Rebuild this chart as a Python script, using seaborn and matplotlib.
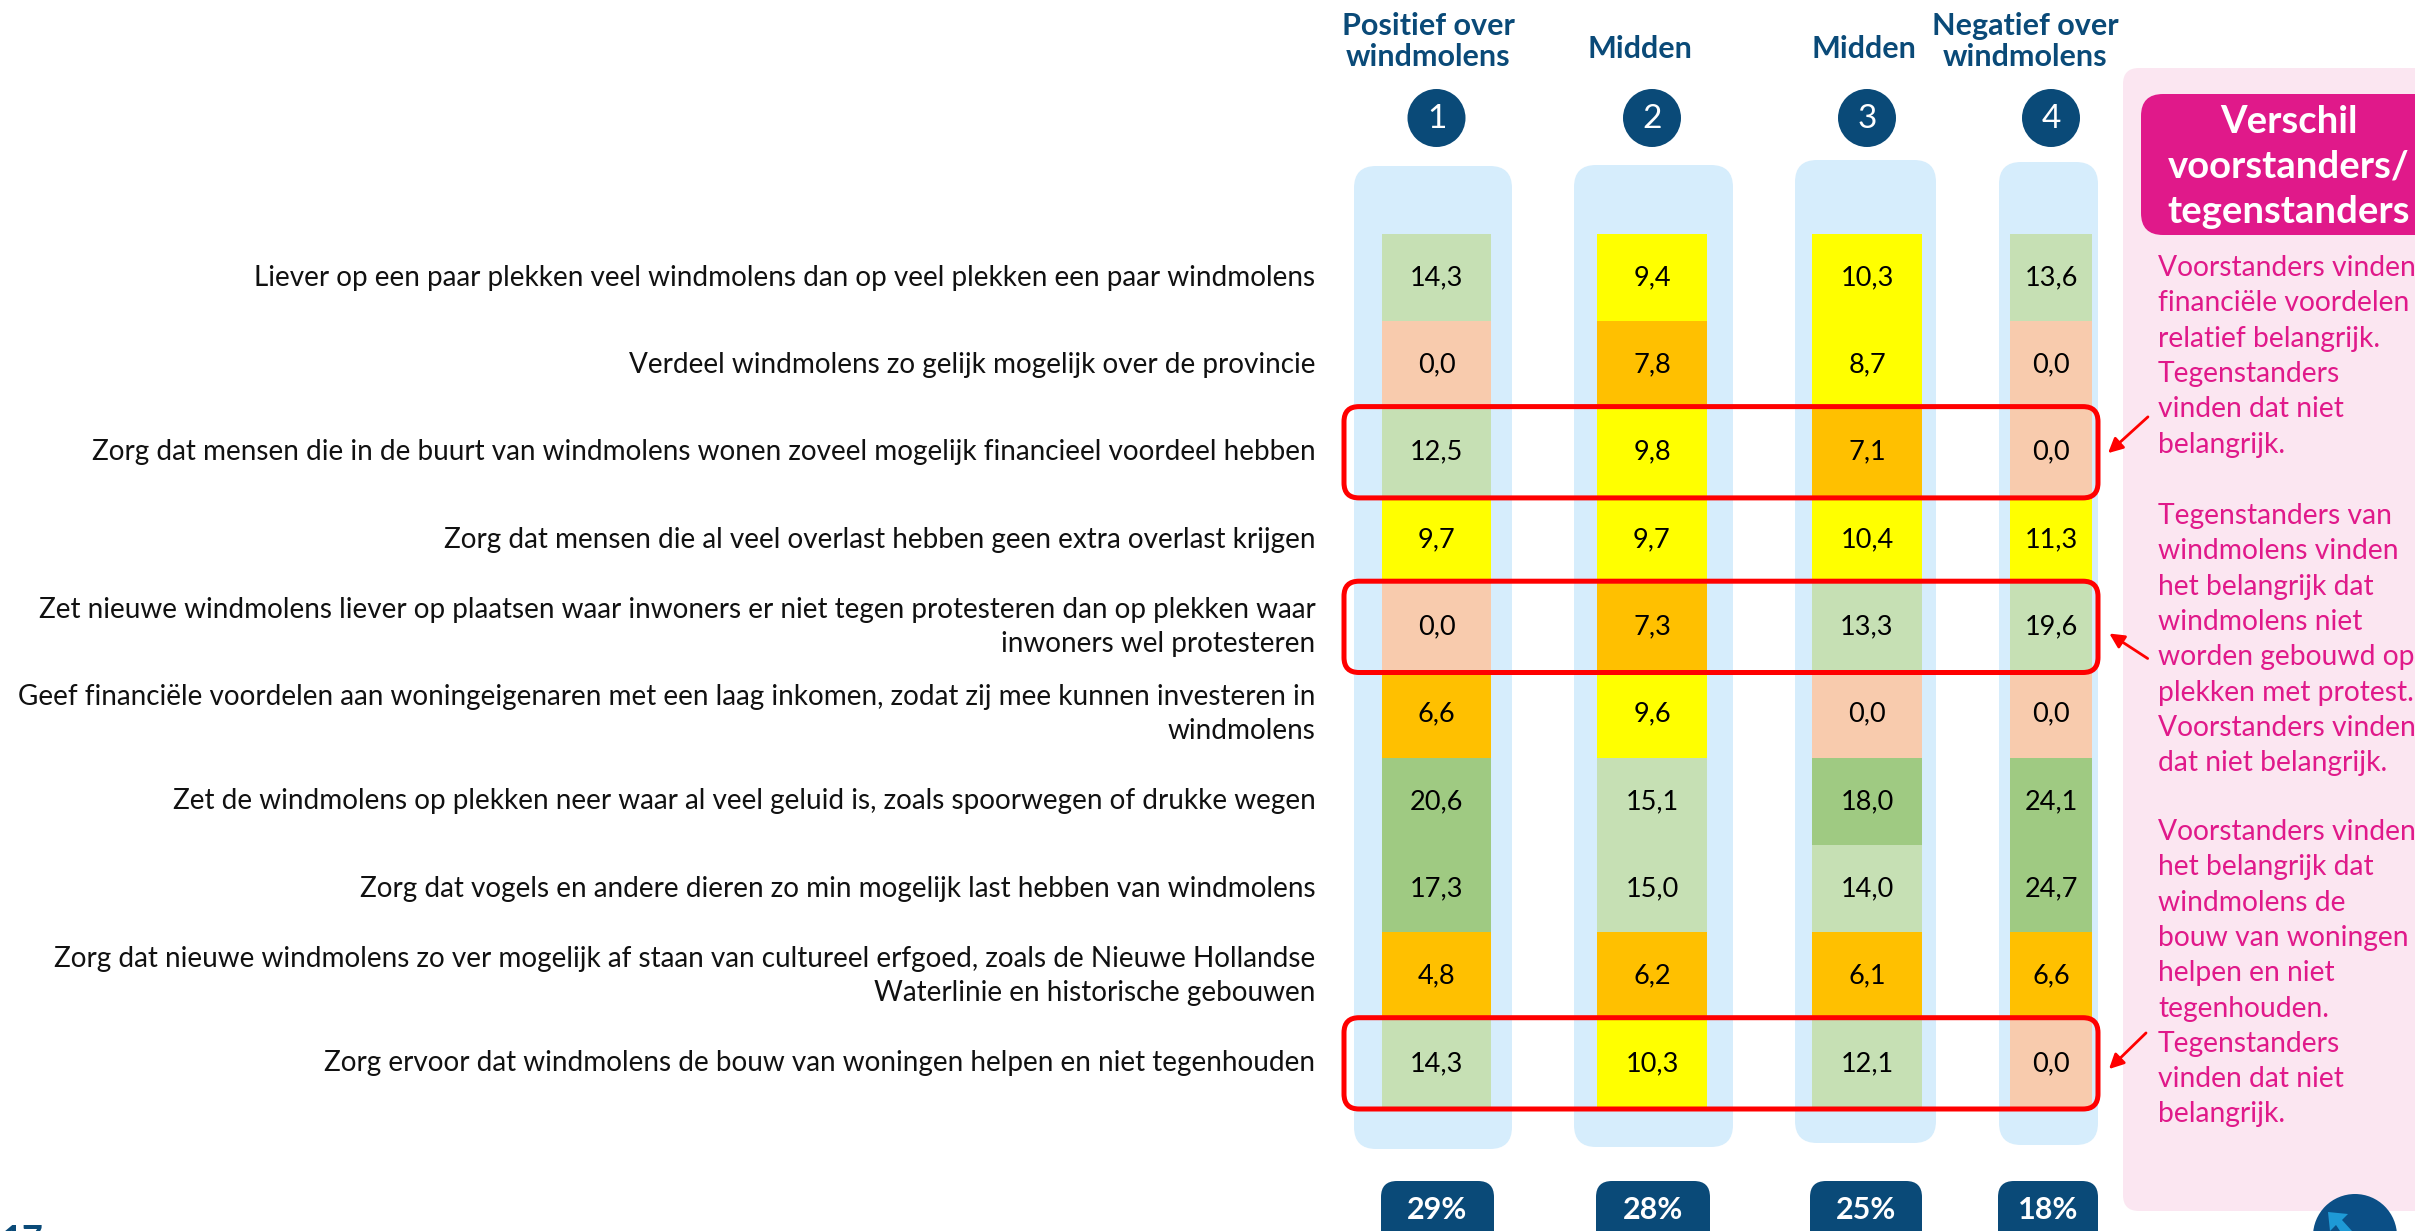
import numpy as np
import matplotlib
matplotlib.use("Agg")
import matplotlib.pyplot as plt
from matplotlib.colors import ListedColormap
from matplotlib.patches import FancyBboxPatch, Circle, Polygon
import seaborn as sns

W, H = 2415, 1231

# ── Data ─────────────────────────────────────────────────────────────────────
STATEMENTS = [
    "Liever op een paar plekken veel windmolens dan op veel plekken een paar windmolens",
    "Verdeel windmolens zo gelijk mogelijk over de provincie",
    "Zorg dat mensen die in de buurt van windmolens wonen zoveel mogelijk financieel voordeel hebben",
    "Zorg dat mensen die al veel overlast hebben geen extra overlast krijgen",
    "Zet nieuwe windmolens liever op plaatsen waar inwoners er niet tegen protesteren dan op plekken waar\ninwoners wel protesteren",
    "Geef financiële voordelen aan woningeigenaren met een laag inkomen, zodat zij mee kunnen investeren in\nwindmolens",
    "Zet de windmolens op plekken neer waar al veel geluid is, zoals spoorwegen of drukke wegen",
    "Zorg dat vogels en andere dieren zo min mogelijk last hebben van windmolens",
    "Zorg dat nieuwe windmolens zo ver mogelijk af staan van cultureel erfgoed, zoals de Nieuwe Hollandse\nWaterlinie en historische gebouwen",
    "Zorg ervoor dat windmolens de bouw van woningen helpen en niet tegenhouden",
]
GROUP_TITLES = [["Positief over", "windmolens"], ["Midden"], ["Midden"], ["Negatief over", "windmolens"]]
GROUP_SHARE = [29, 28, 25, 18]

SCORE_POSITIEF = [14.3, 0.0, 12.5, 9.7, 0.0, 6.6, 20.6, 17.3, 4.8, 14.3]
SCORE_MIDDEN_A = [9.4, 7.8, 9.8, 9.7, 7.3, 9.6, 15.1, 15.0, 6.2, 10.3]
SCORE_MIDDEN_B = [10.3, 8.7, 7.1, 10.4, 13.3, 0.0, 18.0, 14.0, 6.1, 12.1]
SCORE_NEGATIEF = [13.6, 0.0, 0.0, 11.3, 19.6, 0.0, 24.1, 24.7, 6.6, 0.0]

# colour band of each cell as in the source table (0 = laag ... 4 = hoog)
BAND_POSITIEF = [3, 0, 3, 2, 0, 1, 4, 4, 1, 3]
BAND_MIDDEN_A = [2, 1, 2, 2, 1, 2, 3, 3, 1, 2]
BAND_MIDDEN_B = [2, 2, 1, 2, 3, 0, 4, 3, 1, 3]
BAND_NEGATIEF = [3, 0, 0, 2, 3, 0, 4, 4, 1, 0]

HIGHLIGHT_ROWS = [2, 4, 9]

NOTE_TITLE = ["Verschil", "voorstanders/", "tegenstanders"]
NOTES = [
    ["Voorstanders vinden", "financiële voordelen", "relatief belangrijk.", "Tegenstanders",
     "vinden dat niet", "belangrijk."],
    ["Tegenstanders van", "windmolens vinden", "het belangrijk dat", "windmolens niet",
     "worden gebouwd op", "plekken met protest.", "Voorstanders vinden", "dat niet belangrijk."],
    ["Voorstanders vinden", "het belangrijk dat", "windmolens de", "bouw van woningen",
     "helpen en niet", "tegenhouden.", "Tegenstanders", "vinden dat niet", "belangrijk."],
]

# ── Style / layout (pixels, origin top-left) ────────────────────────────────
NAVY = "#0a4a78"
LIGHT_BLUE = "#d6edfc"
PINK_BG = "#fbe6f1"
MAGENTA = "#e0198a"
BAND_COLORS = ["#f8cbad", "#ffc000", "#ffff00", "#c6e0b4", "#9fca82"]

ROW_TOP, ROW_BOTTOM = 234, 1107
CELL_X = [(1382, 1491), (1597, 1707), (1812, 1922), (2010, 2092)]
BG_X = [(1354, 1512), (1574, 1733), (1795, 1936), (1999, 2098)]
BG_Y = [(166, 1149), (165, 1147), (160, 1143), (162, 1145)]
BADGE_X = [(1381, 1494), (1596, 1710), (1810, 1922), (1998, 2098)]
HEAD_X = [1428, 1640, 1864, 2025]
NOTE_Y0 = [268, 516, 832]
NOTE_DY = 35.3
ARROWS = [((2150, 415), (2106, 455)), ((2150, 660), (2107, 632)), ((2148, 1031), (2107, 1071))]

sns.set_theme(style="white")
plt.rcParams["font.family"] = ["Lato", "DejaVu Sans"]


def nl(v):
    return f"{v:.1f}".replace(".", ",")


fig = plt.figure(figsize=(W / 100, H / 100), dpi=100, facecolor="white")
bg = fig.add_axes([0, 0, 1, 1], zorder=0)
fg = fig.add_axes([0, 0, 1, 1], zorder=5)
for a in (bg, fg):
    a.set_xlim(0, W)
    a.set_ylim(H, 0)
    a.axis("off")


def rbox(ax, x0, y0, x1, y1, r, **kw):
    ax.add_patch(FancyBboxPatch((x0, y0), x1 - x0, y1 - y0,
                                boxstyle=f"round,pad=0,rounding_size={r}", **kw))


# ── Column backgrounds, headers, number circles, share badges ───────────────
for k in range(4):
    (bx0, bx1), (by0, by1) = BG_X[k], BG_Y[k]
    rbox(bg, bx0, by0, bx1, by1, 22, facecolor=LIGHT_BLUE, edgecolor="none")

    cx = sum(CELL_X[k]) / 2
    lines = GROUP_TITLES[k]
    ys = [26, 57] if len(lines) == 2 else [49]
    for txt, y in zip(lines, ys):
        bg.text(HEAD_X[k], y, txt, ha="center", va="center", fontsize=22,
                fontweight="bold", color=NAVY)

    bg.add_patch(Circle((cx, 118), 29, facecolor=NAVY, edgecolor="none"))
    bg.text(cx, 119, str(k + 1), ha="center", va="center", fontsize=24, color="white")

    x0, x1 = BADGE_X[k]
    rbox(bg, x0, 1181, x1, 1270, 16, facecolor=NAVY, edgecolor="none")
    bg.text((x0 + x1) / 2, 1210, f"{GROUP_SHARE[k]}%", ha="center", va="center",
            fontsize=22, fontweight="bold", color="white")

# ── Heatmap cells (one seaborn heatmap per group) ───────────────────────────
scores = [SCORE_POSITIEF, SCORE_MIDDEN_A, SCORE_MIDDEN_B, SCORE_NEGATIEF]
bands = [BAND_POSITIEF, BAND_MIDDEN_A, BAND_MIDDEN_B, BAND_NEGATIEF]
band_cmap = ListedColormap(BAND_COLORS)

for k in range(4):
    x0, x1 = CELL_X[k]
    ax = fig.add_axes([x0 / W, 1 - ROW_BOTTOM / H, (x1 - x0) / W, (ROW_BOTTOM - ROW_TOP) / H],
                      zorder=2)
    annot = np.array([nl(v) for v in scores[k]]).reshape(-1, 1)
    sns.heatmap(np.array(bands[k]).reshape(-1, 1), cmap=band_cmap, vmin=-0.5, vmax=4.5,
                annot=annot, fmt="", annot_kws=dict(fontsize=19.5, color="black"),
                cbar=False, xticklabels=False,
                yticklabels=STATEMENTS if k == 0 else False, ax=ax)
    if k == 0:
        ax.tick_params(axis="y", length=0, pad=48, labelsize=20.1, labelcolor="#111111")
        plt.setp(ax.get_yticklabels(), rotation=0, ha="right", va="center", linespacing=1.4)

# ── Highlight boxes + arrows ────────────────────────────────────────────────
row_h = (ROW_BOTTOM - ROW_TOP) / len(STATEMENTS)
for r in HIGHLIGHT_ROWS:
    y0 = ROW_TOP + r * row_h - 2
    rbox(fg, 1344, y0, 2098, y0 + row_h + 4, 15, facecolor="none", edgecolor="#ff0000",
         linewidth=3.6)
for tail, head in ARROWS:
    fg.annotate("", xy=head, xytext=tail,
                arrowprops=dict(arrowstyle="-|>", color="#ff0000", lw=2, mutation_scale=22))

# ── Side panel ──────────────────────────────────────────────────────────────
rbox(bg, 2123, 68, 2460, 1211, 16, facecolor=PINK_BG, edgecolor="none")
rbox(bg, 2141, 94, 2460, 235, 22, facecolor=MAGENTA, edgecolor="none")
for txt, y in zip(NOTE_TITLE, [122, 167, 212]):
    bg.text(2289, y, txt, ha="center", va="center", fontsize=27.5, fontweight="bold",
            color="white")
for y0, para in zip(NOTE_Y0, NOTES):
    for i, line in enumerate(para):
        bg.text(2158, y0 + i * NOTE_DY, line, ha="left", va="center", fontsize=20.3,
                color=MAGENTA)

# page number + logo, both cut off by the page edge
bg.text(2, 1224, "17", ha="left", va="top", fontsize=26, fontweight="bold", color=NAVY)
bg.add_patch(Circle((2355, 1236), 42, facecolor="#0b4f86", edgecolor="none"))
bg.add_patch(Polygon([(2328, 1212), (2348, 1214), (2342, 1220), (2352, 1231), (2340, 1231),
                      (2336, 1225), (2330, 1231)], closed=True, facecolor="#1e9ad6",
                     edgecolor="none"))

fig.savefig("out.png", dpi=100)
